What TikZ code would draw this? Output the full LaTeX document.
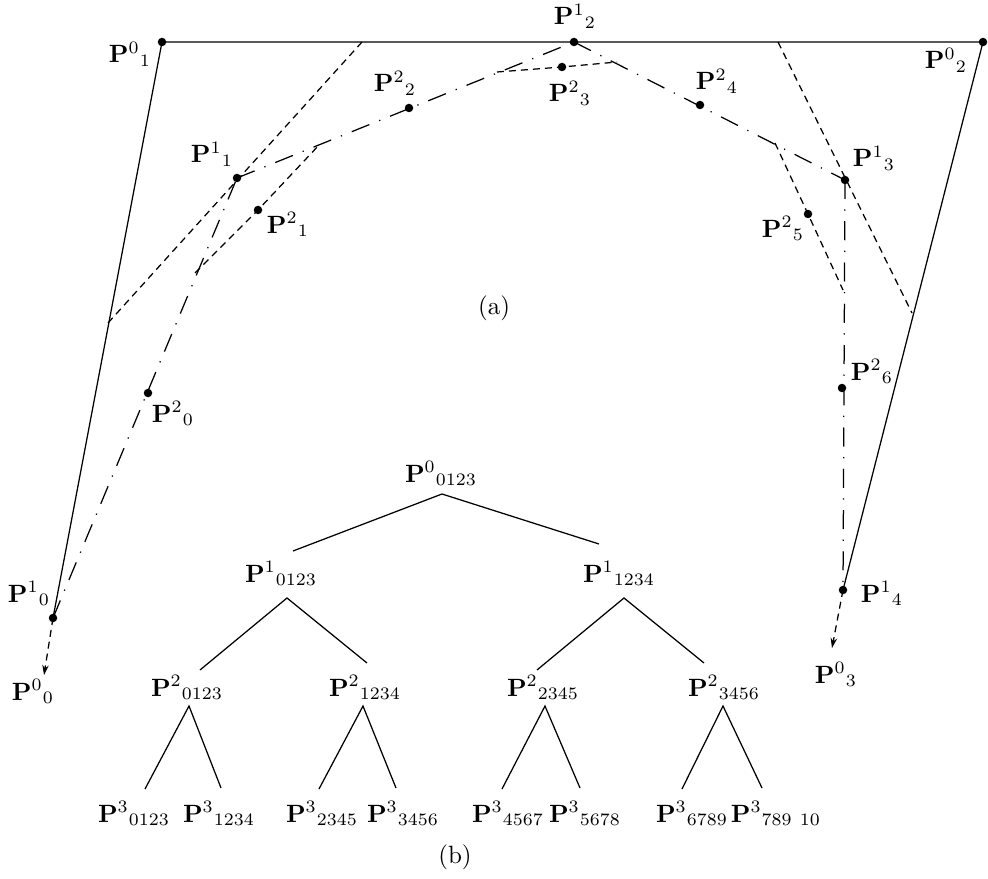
\documentclass[tikz,border=0pt]{standalone}
\usetikzlibrary{arrows.meta}
\begin{document}
\begin{tikzpicture}[x=0.4pt,y=-0.4pt,
  lbl/.style={anchor=base, inner sep=0pt},
  solidline/.style={line width=0.5pt},
  dashline/.style={line width=0.5pt, dash pattern=on 2.8pt off 2pt},
  dashdotline/.style={line width=0.5pt, dash pattern=on 7.6pt off 4.2pt on 0.5pt off 4.2pt},
  arrowline/.style={line width=0.5pt, dash pattern=on 2.8pt off 2pt, -{Stealth[length=4pt,width=2.6pt]}},
  treeline/.style={line width=0.5pt},
  dot/.style={circle, fill=black, inner sep=0pt, minimum size=3.4pt}]
\useasboundingbox (0,0) rectangle (988,879);
% points
\node[dot] (p10) at (53,618) {};
\node[dot] (p01) at (162,42) {};
\node[dot] (p02) at (983,42) {};
\node[dot] (p14) at (843,590) {};
\node[dot] (p11) at (237,178) {};
\node[dot] (p12) at (574,42) {};
\node[dot] (p13) at (845,180) {};
\node[dot] (p20) at (148,393) {};
\node[dot] (p21) at (258,210) {};
\node[dot] (p22) at (409,108) {};
\node[dot] (p23) at (562,67) {};
\node[dot] (p24) at (700,105) {};
\node[dot] (p25) at (808,214) {};
\node[dot] (p26) at (842,388) {};
\coordinate (p00) at (44,675);
\coordinate (p03) at (832,648);
% free ends of the dashed segments
\coordinate (qa1) at (108,323);
\coordinate (qa2) at (362,42);
\coordinate (qb1) at (195,273);
\coordinate (qb2) at (320,144);
\coordinate (qc1) at (497,72);
\coordinate (qc2) at (617,62);
\coordinate (qd1) at (778,42);
\coordinate (qd2) at (912,313);
\coordinate (qe1) at (775,143);
\coordinate (qe2) at (843,290);
% solid polygon
\draw[solidline] (p10.center) -- (p01.center) -- (p02.center) -- (p14.center);
% dashed arrows
\draw[arrowline] (p10.center) -- (p00);
\draw[arrowline] (p14.center) -- (p03);
% dash-dot polygon
\draw[dashdotline] (p10.center) -- (p11.center);
\draw[dashdotline] (p11.center) -- (p12.center);
\draw[dashdotline] (p12.center) -- (p13.center);
\draw[dashdotline] (p13.center) -- (p14.center);
% dashed segments
\draw[dashline] (qa1) -- (qa2);
\draw[dashline] (qb1) -- (p21.center) -- (qb2);
\draw[dashline] (qc1) -- (p23.center) -- (qc2);
\draw[dashline] (qd1) -- (qd2);
\draw[dashline] (qe1) -- (p25.center) -- (qe2);
% labels
\node[lbl] (l01) at (130,63) {$\mathbf{P}^{0}{}_{1}$};
\node[lbl] (l12) at (575,25) {$\mathbf{P}^{1}{}_{2}$};
\node[lbl] (l02) at (946,69) {$\mathbf{P}^{0}{}_{2}$};
\node[lbl] (l22) at (395,92) {$\mathbf{P}^{2}{}_{2}$};
\node[lbl] (l23) at (570,102) {$\mathbf{P}^{2}{}_{3}$};
\node[lbl] (l24) at (717,90) {$\mathbf{P}^{2}{}_{4}$};
\node[lbl] (l11) at (212,163) {$\mathbf{P}^{1}{}_{1}$};
\node[lbl] (l21) at (288,233) {$\mathbf{P}^{2}{}_{1}$};
\node[lbl] (l13) at (874,167) {$\mathbf{P}^{1}{}_{3}$};
\node[lbl] (l25) at (783,237) {$\mathbf{P}^{2}{}_{5}$};
\node[lbl] (l26) at (872,380) {$\mathbf{P}^{2}{}_{6}$};
\node[lbl] (l20) at (173,422) {$\mathbf{P}^{2}{}_{0}$};
\node[lbl] (l10) at (29,602) {$\mathbf{P}^{1}{}_{0}$};
\node[lbl] (l00) at (33,700) {$\mathbf{P}^{0}{}_{0}$};
\node[lbl] (l14) at (882,602) {$\mathbf{P}^{1}{}_{4}$};
\node[lbl] (l03) at (836,683) {$\mathbf{P}^{0}{}_{3}$};
\node (capa) at (494,308) {(a)};
% tree
\node[lbl] (t0) at (441,482) {$\mathbf{P}^{0}{}_{0123}$};
\node[lbl] (t10) at (281,582) {$\mathbf{P}^{1}{}_{0123}$};
\node[lbl] (t11) at (619,582) {$\mathbf{P}^{1}{}_{1234}$};
\node[lbl] (t20) at (187,696) {$\mathbf{P}^{2}{}_{0123}$};
\node[lbl] (t21) at (365,696) {$\mathbf{P}^{2}{}_{1234}$};
\node[lbl] (t22) at (543,696) {$\mathbf{P}^{2}{}_{2345}$};
\node[lbl] (t23) at (724,696) {$\mathbf{P}^{2}{}_{3456}$};
\node[lbl] (t30) at (134,822) {$\mathbf{P}^{3}{}_{0123}$};
\node[lbl] (t31) at (219,822) {$\mathbf{P}^{3}{}_{1234}$};
\node[lbl] (t32) at (322,822) {$\mathbf{P}^{3}{}_{2345}$};
\node[lbl] (t33) at (403,822) {$\mathbf{P}^{3}{}_{3456}$};
\node[lbl] (t34) at (508,822) {$\mathbf{P}^{3}{}_{4567}$};
\node[lbl] (t35) at (585,822) {$\mathbf{P}^{3}{}_{5678}$};
\node[lbl] (t36) at (692,822) {$\mathbf{P}^{3}{}_{6789}$};
\node[lbl] (t37) at (776,822) {$\mathbf{P}^{3}{}_{789\ 10}$};
\node (capb) at (455,857) {(b)};
% tree connector ends
\coordinate (a0) at (442,494);
\coordinate (a0l) at (293,551);
\coordinate (a0r) at (599,544);
\coordinate (a10) at (287,598);
\coordinate (a10l) at (200,670);
\coordinate (a10r) at (367,663);
\coordinate (a11) at (624,598);
\coordinate (a11l) at (537,670);
\coordinate (a11r) at (704,663);
\coordinate (a20) at (189,706);
\coordinate (a20l) at (145,789);
\coordinate (a20r) at (221,788);
\coordinate (a21) at (363,706);
\coordinate (a21l) at (319,789);
\coordinate (a21r) at (396,788);
\coordinate (a22) at (545,706);
\coordinate (a22l) at (502,789);
\coordinate (a22r) at (580,788);
\coordinate (a23) at (723,706);
\coordinate (a23l) at (682,789);
\coordinate (a23r) at (762,788);
\draw[treeline] (a0l) -- (a0) -- (a0r);
\draw[treeline] (a10l) -- (a10) -- (a10r);
\draw[treeline] (a11l) -- (a11) -- (a11r);
\draw[treeline] (a20l) -- (a20) -- (a20r);
\draw[treeline] (a21l) -- (a21) -- (a21r);
\draw[treeline] (a22l) -- (a22) -- (a22r);
\draw[treeline] (a23l) -- (a23) -- (a23r);
\end{tikzpicture}
\end{document}
